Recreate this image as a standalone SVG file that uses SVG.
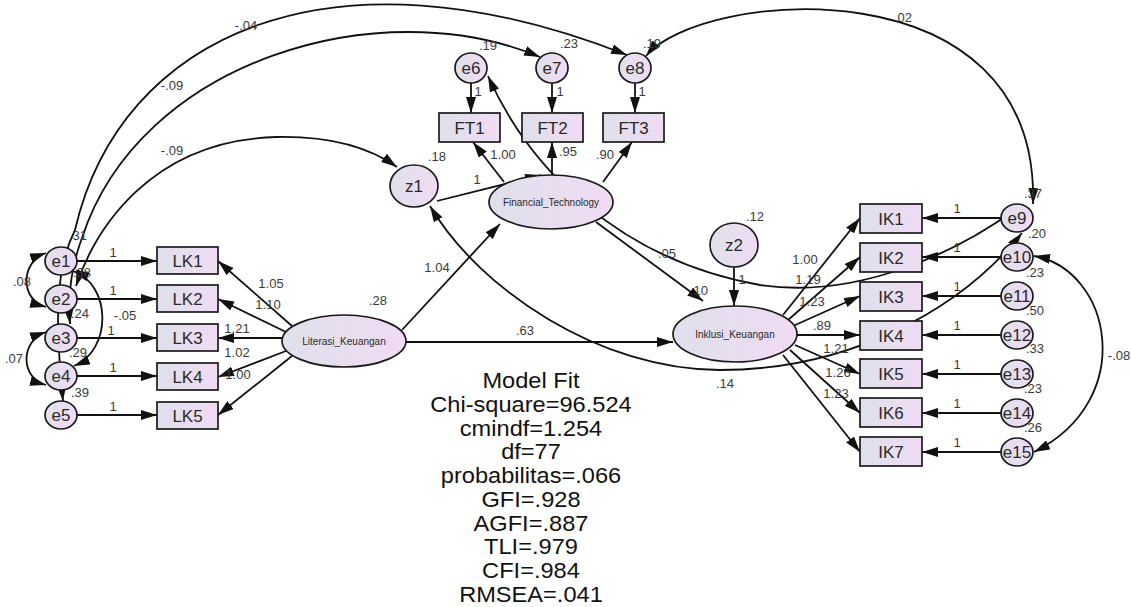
<svg xmlns="http://www.w3.org/2000/svg" width="1132" height="607" viewBox="0 0 1132 607">
<style>
.n{fill:url(#g);stroke:#1a1a1a;stroke-width:1.7}
.t{font-family:"Liberation Sans",Arial,sans-serif;fill:#2a2a2a;text-anchor:middle}
.bx{font-size:17px}
.sm{font-size:10px}
.lb{font-family:"Liberation Sans",Arial,sans-serif;font-size:13px;fill:#3a3a3a;text-anchor:middle}
.c path,.c line{fill:none;stroke:#111;stroke-width:1.8}
.s{marker-end:url(#a)}
.d{marker-start:url(#a);marker-end:url(#a)}
.mf{font-family:"Liberation Sans",Arial,sans-serif;font-size:22.5px;fill:#111;text-anchor:middle}
</style>
<defs>
<linearGradient id="g" x1="0" y1="0" x2="1" y2="0">
<stop offset="0" stop-color="#dfe0eb"/>
<stop offset="1" stop-color="#f0dbf3"/>
</linearGradient>
<marker id="a" viewBox="0 0 16 10" refX="16" refY="5" markerWidth="16" markerHeight="10" markerUnits="userSpaceOnUse" orient="auto-start-reverse">
<path d="M0,0 L16,5 L0,10 z" fill="#111"/>
</marker>
</defs>
<rect width="1132" height="607" fill="#fff"/>

<g class="c" id="connectors">
<!-- e -> LK -->
<line class="s" x1="77" y1="261" x2="157" y2="261"/>
<line class="s" x1="77" y1="299" x2="157" y2="299"/>
<line class="s" x1="77" y1="338" x2="157" y2="338"/>
<line class="s" x1="77" y1="376" x2="157" y2="376"/>
<line class="s" x1="77" y1="415" x2="157" y2="415"/>
<!-- LK ellipse -> LK boxes -->
<line class="s" x1="292" y1="326" x2="218" y2="261"/>
<line class="s" x1="286" y1="332" x2="218" y2="299"/>
<line class="s" x1="282" y1="338" x2="218" y2="338"/>
<line class="s" x1="286" y1="351" x2="218" y2="377"/>
<line class="s" x1="292" y1="356" x2="218" y2="415"/>
<!-- LK -> FT, LK -> IK -->
<line class="s" x1="402" y1="330" x2="500" y2="224"/>
<line class="s" x1="406" y1="342" x2="673" y2="342"/>
<!-- z1 -> FT -->
<line class="s" x1="437" y1="201" x2="541" y2="175"/>
<!-- e -> FT boxes -->
<line class="s" x1="471" y1="83" x2="471" y2="113"/>
<line class="s" x1="552" y1="83" x2="552" y2="113"/>
<line class="s" x1="635" y1="83" x2="635" y2="113"/>
<!-- FT -> FT boxes -->
<line class="s" x1="504" y1="182" x2="473" y2="142"/>
<line class="s" x1="552" y1="175" x2="552" y2="142"/>
<line class="s" x1="603" y1="182" x2="632" y2="142"/>
<!-- FT -> IK -->
<line class="s" x1="596" y1="222" x2="703" y2="301"/>
<!-- z2 -> IK -->
<line class="s" x1="734" y1="267" x2="734" y2="306"/>
<!-- IK -> IK boxes -->
<line class="s" x1="783" y1="315" x2="860" y2="218"/>
<line class="s" x1="788" y1="320" x2="860" y2="257"/>
<line class="s" x1="793" y1="326" x2="860" y2="296"/>
<line class="s" x1="797" y1="335" x2="860" y2="335"/>
<line class="s" x1="795" y1="345" x2="860" y2="374"/>
<line class="s" x1="790" y1="350" x2="860" y2="413"/>
<line class="s" x1="783" y1="355" x2="860" y2="452"/>
<!-- e -> IK boxes -->
<line class="s" x1="1001" y1="218" x2="922" y2="218"/>
<line class="s" x1="1001" y1="257" x2="922" y2="257"/>
<line class="s" x1="1001" y1="296" x2="922" y2="296"/>
<line class="s" x1="1001" y1="335" x2="922" y2="335"/>
<line class="s" x1="1001" y1="374" x2="922" y2="374"/>
<line class="s" x1="1001" y1="413" x2="922" y2="413"/>
<line class="s" x1="1001" y1="452" x2="922" y2="452"/>
<!-- covariances -->
<path class="d" d="M46 253 C20 262, 20 300, 46 307"/>
<path class="d" d="M46 332 C20 341, 20 378, 46 385"/>
<path class="d" d="M73 271 C112 285, 112 350, 74 366"/>
<path class="d" d="M63 401 C55 320, 55 270, 75 230 C120 35, 330 -62, 627 55"/>
<path class="d" d="M70 324 C68 300, 70 270, 82 238 C140 60, 380 -10, 540 57"/>
<path class="d" d="M76 286 C95 230, 150 140, 277 137 C330 136, 370 148, 397 167"/>
<path class="d" d="M646 56 C700 -10, 1040 -40, 1033 204"/>
<path class="d" d="M488 76 C530 170, 620 260, 760 285 C860 300, 960 250, 1016 209"/>
<path class="d" d="M430 206 C480 290, 600 370, 720 370 C850 370, 960 310, 1022 233"/>
<path class="d" d="M1034 256 C1112 270, 1138 400, 1034 452"/>
</g>

<g id="e1"><ellipse class="n" cx="61" cy="261" rx="16" ry="14"/><text class="t bx" x="61" y="267">e1</text></g>
<g id="e2"><ellipse class="n" cx="61" cy="299" rx="16" ry="14"/><text class="t bx" x="61" y="305">e2</text></g>
<g id="e3"><ellipse class="n" cx="61" cy="338" rx="16" ry="14"/><text class="t bx" x="61" y="344">e3</text></g>
<g id="e4"><ellipse class="n" cx="61" cy="376" rx="16" ry="14"/><text class="t bx" x="61" y="382">e4</text></g>
<g id="e5"><ellipse class="n" cx="61" cy="415" rx="16" ry="14"/><text class="t bx" x="61" y="421">e5</text></g>

<g id="LK1"><rect class="n" x="157" y="247" width="61" height="27"/><text class="t bx" x="187.5" y="266.5">LK1</text></g>
<g id="LK2"><rect class="n" x="157" y="285" width="61" height="27"/><text class="t bx" x="187.5" y="304.5">LK2</text></g>
<g id="LK3"><rect class="n" x="157" y="324" width="61" height="27"/><text class="t bx" x="187.5" y="343.5">LK3</text></g>
<g id="LK4"><rect class="n" x="157" y="363" width="61" height="27"/><text class="t bx" x="187.5" y="382.5">LK4</text></g>
<g id="LK5"><rect class="n" x="157" y="402" width="61" height="27"/><text class="t bx" x="187.5" y="421.5">LK5</text></g>

<g id="Literasi_Keuangan"><ellipse class="n" cx="344" cy="341" rx="62" ry="26"/><text class="t sm" x="344" y="345">Literasi_Keuangan</text></g>
<g id="Financial_Technology"><ellipse class="n" cx="551" cy="202" rx="62" ry="27"/><text class="t" style="font-size:10px" x="551" y="206">Financial_Technology</text></g>
<g id="Inklusi_Keuangan"><ellipse class="n" cx="735" cy="334" rx="62" ry="28"/><text class="t sm" x="735" y="338">Inklusi_Keuangan</text></g>

<g id="z1"><ellipse class="n" cx="414" cy="186" rx="24" ry="21"/><text class="t bx" x="414" y="192">z1</text></g>
<g id="z2"><ellipse class="n" cx="734" cy="245" rx="24" ry="22"/><text class="t bx" x="734" y="251">z2</text></g>

<g id="e6"><ellipse class="n" cx="471" cy="68" rx="16" ry="15"/><text class="t bx" x="471" y="74">e6</text></g>
<g id="e7"><ellipse class="n" cx="552" cy="68" rx="16" ry="15"/><text class="t bx" x="552" y="74">e7</text></g>
<g id="e8"><ellipse class="n" cx="635" cy="68" rx="16" ry="15"/><text class="t bx" x="635" y="74">e8</text></g>

<g id="FT1"><rect class="n" x="439" y="113" width="61" height="29"/><text class="t bx" x="469.5" y="133.5">FT1</text></g>
<g id="FT2"><rect class="n" x="522" y="113" width="61" height="29"/><text class="t bx" x="552.5" y="133.5">FT2</text></g>
<g id="FT3"><rect class="n" x="603" y="113" width="61" height="29"/><text class="t bx" x="633.5" y="133.5">FT3</text></g>

<g id="IK1"><rect class="n" x="860" y="204" width="62" height="29"/><text class="t bx" x="891" y="224.5">IK1</text></g>
<g id="IK2"><rect class="n" x="860" y="243" width="62" height="29"/><text class="t bx" x="891" y="263.5">IK2</text></g>
<g id="IK3"><rect class="n" x="860" y="282" width="62" height="29"/><text class="t bx" x="891" y="302.5">IK3</text></g>
<g id="IK4"><rect class="n" x="860" y="321" width="62" height="29"/><text class="t bx" x="891" y="341.5">IK4</text></g>
<g id="IK5"><rect class="n" x="860" y="359" width="62" height="29"/><text class="t bx" x="891" y="379.5">IK5</text></g>
<g id="IK6"><rect class="n" x="860" y="398" width="62" height="29"/><text class="t bx" x="891" y="418.5">IK6</text></g>
<g id="IK7"><rect class="n" x="860" y="437" width="62" height="29"/><text class="t bx" x="891" y="457.5">IK7</text></g>

<g id="e9"><ellipse class="n" cx="1017" cy="218" rx="16" ry="14"/><text class="t bx" x="1017" y="224">e9</text></g>
<g id="e10"><ellipse class="n" cx="1017" cy="257" rx="16" ry="14"/><text class="t bx" x="1017" y="263">e10</text></g>
<g id="e11"><ellipse class="n" cx="1017" cy="296" rx="16" ry="14"/><text class="t bx" x="1017" y="302">e11</text></g>
<g id="e12"><ellipse class="n" cx="1017" cy="335" rx="16" ry="14"/><text class="t bx" x="1017" y="341">e12</text></g>
<g id="e13"><ellipse class="n" cx="1017" cy="374" rx="16" ry="14"/><text class="t bx" x="1017" y="380">e13</text></g>
<g id="e14"><ellipse class="n" cx="1017" cy="413" rx="16" ry="14"/><text class="t bx" x="1017" y="419">e14</text></g>
<g id="e15"><ellipse class="n" cx="1017" cy="452" rx="16" ry="14"/><text class="t bx" x="1017" y="458">e15</text></g>

<g id="labels">
<text class="lb" x="113" y="257">1</text>
<text class="lb" x="113" y="295">1</text>
<text class="lb" x="111" y="335">1</text>
<text class="lb" x="113" y="372">1</text>
<text class="lb" x="113" y="411">1</text>
<text class="lb" x="78" y="240">.31</text>
<text class="lb" x="82" y="277">.38</text>
<text class="lb" x="80" y="318">.24</text>
<text class="lb" x="78" y="357">.29</text>
<text class="lb" x="80" y="397">.39</text>
<text class="lb" x="22" y="286">.08</text>
<text class="lb" x="14" y="363">.07</text>
<text class="lb" x="125" y="320">-.05</text>
<text class="lb" x="271" y="288">1.05</text>
<text class="lb" x="268" y="309">1.10</text>
<text class="lb" x="237" y="333">1.21</text>
<text class="lb" x="237" y="357">1.02</text>
<text class="lb" x="238" y="379">1.00</text>
<text class="lb" x="378" y="305">.28</text>
<text class="lb" x="437" y="272">1.04</text>
<text class="lb" x="525" y="335">.63</text>
<text class="lb" x="437" y="161">.18</text>
<text class="lb" x="477" y="184">1</text>
<text class="lb" x="488" y="50">.19</text>
<text class="lb" x="569" y="48">.23</text>
<text class="lb" x="652" y="48">.19</text>
<text class="lb" x="478" y="96">1</text>
<text class="lb" x="560" y="96">1</text>
<text class="lb" x="642" y="96">1</text>
<text class="lb" x="503" y="159">1.00</text>
<text class="lb" x="568" y="156">.95</text>
<text class="lb" x="605" y="159">.90</text>
<text class="lb" x="246" y="30">-.04</text>
<text class="lb" x="172" y="90">-.09</text>
<text class="lb" x="172" y="155">-.09</text>
<text class="lb" x="903" y="22">.02</text>
<text class="lb" x="667" y="258">.05</text>
<text class="lb" x="699" y="295">.10</text>
<text class="lb" x="725" y="388">.14</text>
<text class="lb" x="755" y="221">.12</text>
<text class="lb" x="742" y="284">1</text>
<text class="lb" x="805" y="264">1.00</text>
<text class="lb" x="808" y="284">1.19</text>
<text class="lb" x="812" y="306">1.23</text>
<text class="lb" x="822" y="330">.89</text>
<text class="lb" x="836" y="353">1.21</text>
<text class="lb" x="838" y="377">1.26</text>
<text class="lb" x="836" y="398">1.23</text>
<text class="lb" x="957" y="213">1</text>
<text class="lb" x="957" y="252">1</text>
<text class="lb" x="957" y="291">1</text>
<text class="lb" x="957" y="330">1</text>
<text class="lb" x="957" y="369">1</text>
<text class="lb" x="957" y="408">1</text>
<text class="lb" x="957" y="447">1</text>
<text class="lb" x="1033" y="198">.37</text>
<text class="lb" x="1037" y="238">.20</text>
<text class="lb" x="1035" y="277">.23</text>
<text class="lb" x="1035" y="315">.50</text>
<text class="lb" x="1035" y="353">.33</text>
<text class="lb" x="1033" y="393">.23</text>
<text class="lb" x="1033" y="432">.26</text>
<text class="lb" x="1119" y="360">-.08</text>
</g>

<g id="model_fit" transform="translate(531 0) scale(1.05 1) translate(-531 0)">
<text class="mf" x="531" y="388">Model Fit</text>
<text class="mf" x="531" y="412">Chi-square=96.524</text>
<text class="mf" x="531" y="436">cmindf=1.254</text>
<text class="mf" x="531" y="459">df=77</text>
<text class="mf" x="531" y="483">probabilitas=.066</text>
<text class="mf" x="531" y="507">GFI=.928</text>
<text class="mf" x="531" y="531">AGFI=.887</text>
<text class="mf" x="531" y="554">TLI=.979</text>
<text class="mf" x="531" y="578">CFI=.984</text>
<text class="mf" x="531" y="602">RMSEA=.041</text>
</g>
</svg>
